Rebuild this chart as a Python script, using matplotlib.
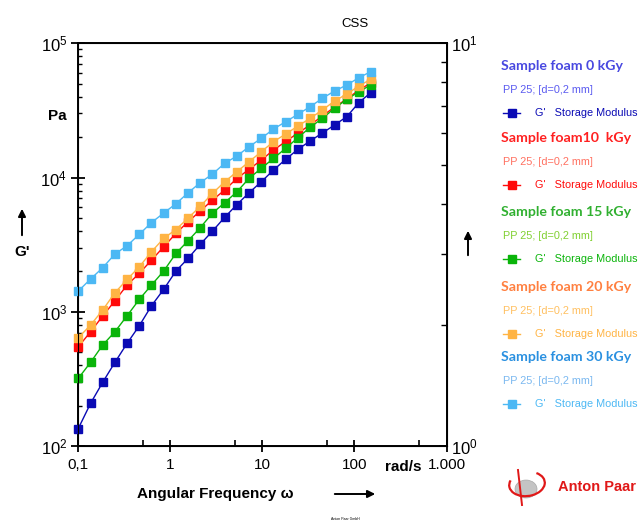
import matplotlib as mpl
mpl.use("Agg")
import matplotlib.pyplot as plt
from matplotlib.ticker import FixedLocator, NullFormatter, LogLocator
from matplotlib.patches import Circle, Arc

plt.rcParams['font.family'] = ['Liberation Sans', 'DejaVu Sans']
plt.rcParams['mathtext.fontset'] = 'custom'
plt.rcParams['mathtext.rm'] = 'Liberation Sans'

W, H = 642, 523

# angular frequency, rad/s
omega = [0.1, 0.136, 0.184, 0.25, 0.339, 0.46, 0.624, 0.847, 1.15, 1.56, 2.11,
         2.87, 3.89, 5.28, 7.17, 9.73, 13.2, 17.9, 24.3, 33.0, 44.8, 60.8,
         82.5, 112, 150]

# G' storage modulus, Pa
g_0kgy = [135, 208, 298, 420, 582, 787, 1109, 1469, 2011, 2500, 3178, 3991,
          5050, 6290, 7700, 9300, 11370, 13670, 16220, 18710, 21460, 24620,
          28390, 36220, 42850]
g_10kgy = [548, 710, 929, 1208, 1582, 1932, 2427, 3048, 3838, 4686, 5625,
           6795, 8070, 9840, 11510, 13500, 16030, 18540, 21460, 24620, 28730,
           33520, 38460, 44870, 50630]
g_15kgy = [319, 420, 565, 710, 934, 1237, 1582, 2011, 2723, 3381, 4227, 5435,
           6490, 7830, 9860, 11710, 13900, 16500, 19800, 23650, 27610, 32790,
           38260, 43590, 48890]
g_20kgy = [640, 796, 1030, 1386, 1742, 2163, 2800, 3524, 4100, 4990, 6100,
           7620, 9300, 11040, 13120, 15570, 18490, 21090, 24200, 27610, 31840,
           37150, 41900, 48080, 53950]
g_30kgy = [1426, 1754, 2128, 2692, 3105, 3775, 4620, 5435, 6380, 7700, 9150,
           10620, 12760, 14460, 16970, 19600, 22980, 26060, 29580, 33700,
           38900, 44130, 48890, 55430, 61430]

series = [g_0kgy, g_10kgy, g_15kgy, g_20kgy, g_30kgy]
colors = ["#0a0ab4", "#ff0a0a", "#0ab40a", "#ffb444", "#4cb8f4"]
title_colors = ["#4848e0", "#ff2020", "#30b030", "#ff8040", "#2a90e0"]
pp_colors = ["#5a5af0", "#ff7060", "#80d030", "#ffc060", "#7ab8f0"]
legend_titles = ["Sample foam 0 kGy", "Sample foam10  kGy", "Sample foam 15 kGy",
                 "Sample foam 20 kGy", "Sample foam 30 kGy"]


def fx(x):
    return x / W


def fy(y):
    return 1 - y / H


fig = plt.figure(figsize=(W / 100, H / 100), dpi=100)
ax = fig.add_axes([fx(78.3), fy(446), fx(446.5) - fx(78.3), fy(43.3) - fy(446)])

for g, c in zip(series, colors):
    ax.plot(omega, g, color=c, lw=1.0, marker='s', ms=5.5, mec=c, mfc=c,
            clip_on=False, zorder=3)

ax.set_xscale('log')
ax.set_yscale('log')
ax.set_xlim(0.1, 1000)
ax.set_ylim(100, 1e5)

for s in ax.spines.values():
    s.set_linewidth(1.4)

ax.xaxis.set_major_locator(FixedLocator([0.1, 1, 10, 100, 1000]))
ax.xaxis.set_minor_locator(FixedLocator([0.5, 5, 50, 500]))
ax.set_xticklabels(["0,1", "1", "10", "100", "1.000"])
ax.xaxis.set_minor_formatter(NullFormatter())
ax.tick_params(axis='x', which='major', direction='inout', length=9, width=1.3,
               labelsize=11, pad=4)
ax.tick_params(axis='x', which='minor', direction='in', length=4, width=1.2)

ax.yaxis.set_major_locator(FixedLocator([100, 1e3, 1e4, 1e5]))
ax.yaxis.set_minor_locator(LogLocator(base=10, subs=range(2, 10)))
ax.yaxis.set_minor_formatter(NullFormatter())
ax.set_yticklabels([r"$\mathregular{10^{2}}$", r"$\mathregular{10^{3}}$",
                    r"$\mathregular{10^{4}}$", r"$\mathregular{10^{5}}$"])
ax.tick_params(axis='y', which='major', direction='inout', length=10, width=1.3,
               labelsize=12, pad=3)
ax.tick_params(axis='y', which='minor', direction='in', length=3, width=1.0)

ax2 = ax.twinx()
ax2.set_yscale('log')
ax2.set_ylim(1, 10)
ax2.yaxis.set_major_locator(FixedLocator([1, 10]))
ax2.yaxis.set_minor_locator(LogLocator(base=10, subs=range(2, 10)))
ax2.yaxis.set_minor_formatter(NullFormatter())
ax2.set_yticklabels([r"$\mathregular{10^{0}}$", r"$\mathregular{10^{1}}$"])
ax2.tick_params(axis='y', which='major', direction='in', length=6, width=1.3,
                labelsize=12, pad=3)
ax2.tick_params(axis='y', which='minor', direction='in', length=4, width=1.0)

# axis annotations
fig.text(fx(403), fy(467), "rad/s", fontsize=11, fontweight='bold',
         ha='center', va='center')
fig.text(fx(57), fy(116), "Pa", fontsize=11, fontweight='bold',
         ha='center', va='center')
fig.text(fx(22), fy(252), "G'", fontsize=11, fontweight='bold',
         ha='center', va='center')
fig.text(fx(215), fy(494), "Angular Frequency \u03c9", fontsize=11,
         fontweight='bold', ha='center', va='center')
fig.text(fx(355), fy(24), "CSS", fontsize=9.5, ha='center', va='center')
fig.text(fx(345), fy(519), "Anton Paar GmbH", fontsize=2.5, ha='center',
         va='center')

# arrows
arrow_kw = dict(transform=fig.transFigure, arrowstyle='-|>', mutation_scale=11,
                lw=1.4, color='black')
fig.add_artist(mpl.patches.FancyArrowPatch((fx(22), fy(238)), (fx(22), fy(206)),
                                           **arrow_kw))
fig.add_artist(mpl.patches.FancyArrowPatch((fx(468), fy(258)), (fx(468), fy(228)),
                                           **arrow_kw))
fig.add_artist(mpl.patches.FancyArrowPatch((fx(332), fy(494)), (fx(378), fy(494)),
                                           **arrow_kw))

# legend block
row_y = [66, 137.7, 211.7, 286.7, 357.3]
for i in range(5):
    y0 = row_y[i]
    fig.text(fx(501), fy(y0), legend_titles[i], fontsize=10.2, fontweight='bold',
             family=['Lato', 'DejaVu Sans'], color=title_colors[i],
             ha='left', va='center')
    fig.text(fx(503), fy(y0 + 24), "PP 25; [d=0,2 mm]", fontsize=7.8,
             color=pp_colors[i], ha='left', va='center')
    fig.add_artist(plt.Line2D([fx(503), fx(520)], [fy(y0 + 47), fy(y0 + 47)],
                              color=colors[i], lw=1.0,
                              transform=fig.transFigure))
    fig.add_artist(plt.Line2D([fx(511.5)], [fy(y0 + 47)], color=colors[i],
                              marker='s', ms=5.5, lw=0, transform=fig.transFigure))
    fig.text(fx(535), fy(y0 + 47), "G'   Storage Modulus", fontsize=7.8,
             color=colors[i], ha='left', va='center')

# Anton Paar logo
fig.add_artist(Circle((fx(526), fy(489)), 11 / W, transform=fig.transFigure,
                      facecolor='#c4c4c4', edgecolor='#a8a8a8', lw=0.5))
fig.add_artist(Arc((fx(527), fy(484)), 36 / W, 24 / H, angle=15, theta1=150,
                   theta2=400, transform=fig.transFigure, color='#e01818', lw=1.6))
fig.add_artist(plt.Line2D([fx(518), fx(522)], [fy(470), fy(505)],
                          color='#e01818', lw=1.4, transform=fig.transFigure))
fig.text(fx(558), fy(487), "Anton Paar", fontsize=10.5, fontweight='bold',
         color='#e01818', ha='left', va='center')

fig.savefig("out.png", dpi=100)
